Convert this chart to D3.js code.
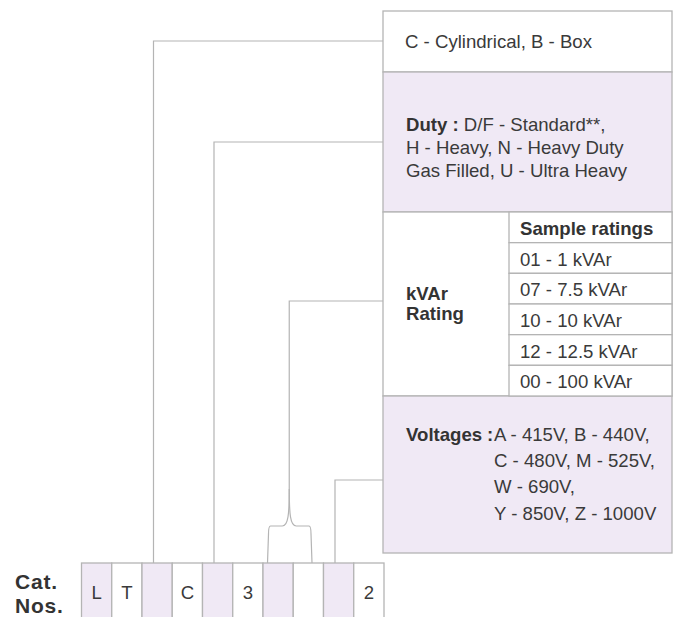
<!DOCTYPE html>
<html>
<head>
<meta charset="utf-8">
<script src="https://cdn.jsdelivr.net/npm/d3@7"></script>
<style>
  body { margin: 0; background: #fff; }
  svg { display: block; font-family: "Liberation Sans", Arial, sans-serif; }
  .box { stroke: #b4b4b4; stroke-width: 1.3; }
  .wire { fill: none; stroke: #b4b4b4; stroke-width: 1.2; }
  text { fill: #3a3a3a; font-size: 18.6px; }
  .b { font-weight: bold; fill: #333; }
</style>
</head>
<body>
<svg width="676" height="617"></svg>
<script>
// catalogue number cells, left to right
const catCodes = ["L", "T", "", "C", "", "3", "", "", "", "2"];
const catShaded = [1, 0, 1, 0, 1, 0, 1, 0, 1, 0];

// right-hand panel content
const typeText = "C - Cylindrical, B - Box";
const dutyLabel = "Duty :";
const dutyLines = [" D/F - Standard**,", "H - Heavy, N - Heavy Duty", "Gas Filled, U - Ultra Heavy"];
const ratingLabel = ["kVAr", "Rating"];
const ratingHeader = "Sample ratings";
const ratings = ["01 - 1 kVAr", "07 - 7.5 kVAr", "10 - 10 kVAr", "12 - 12.5 kVAr", "00 - 100 kVAr"];
const voltLabel = "Voltages";
const voltLines = ["A - 415V, B - 440V,", "C - 480V, M - 525V,", "W - 690V,", "Y - 850V, Z - 1000V"];
const catLabel = ["Cat.", "Nos."];

// which cell each section's wire runs down to
const wires = [
  { cell: 2, section: 0 },
  { cell: 4, section: 1 },
  { cell: [6, 7], section: 2 },
  { cell: 8, section: 3 }
];

const purple = "#f0e9f5";
const svg = d3.select("svg");

// panel sections (top, bottom, fill)
const panelX0 = 383, panelX1 = 672;
const sections = [
  { y0: 11, y1: 72, fill: "#fff", wireY: 41 },
  { y0: 72, y1: 212, fill: purple, wireY: 142 },
  { y0: 212, y1: 396, fill: "#fff", wireY: 301 },
  { y0: 396, y1: 553, fill: purple, wireY: 480 }
];

svg.append("g").selectAll("rect")
  .data(sections).join("rect")
  .attr("class", "box")
  .attr("x", panelX0).attr("width", panelX1 - panelX0)
  .attr("y", d => d.y0).attr("height", d => d.y1 - d.y0)
  .attr("fill", d => d.fill);

// type
svg.append("text").attr("x", 405).attr("y", 48).text(typeText);

// duty
const duty = svg.append("text").attr("x", 406).attr("y", 131);
duty.append("tspan").attr("class", "b").text(dutyLabel);
duty.append("tspan").text(dutyLines[0]);
svg.append("g").selectAll("text")
  .data(dutyLines.slice(1)).join("text")
  .attr("x", 406).attr("y", (d, i) => 154 + i * 23.3)
  .text(d => d);

// kVAr rating table
const colX = 509;
const rowY = d3.scaleBand()
  .domain(d3.range(ratings.length + 1))
  .range([sections[2].y0, sections[2].y1]);

svg.append("g").selectAll("rect")
  .data([ratingHeader].concat(ratings)).join("rect")
  .attr("class", "box").attr("fill", "#fff")
  .attr("x", colX).attr("width", panelX1 - colX)
  .attr("y", (d, i) => rowY(i)).attr("height", rowY.bandwidth());

svg.append("g").selectAll("text")
  .data([ratingHeader].concat(ratings)).join("text")
  .attr("class", (d, i) => i === 0 ? "b" : null)
  .attr("x", 520)
  .attr("y", (d, i) => rowY(i) + rowY.bandwidth() * 0.75)
  .text(d => d);

svg.append("g").selectAll("text")
  .data(ratingLabel).join("text")
  .attr("class", "b")
  .attr("x", 406).attr("y", (d, i) => 300 + i * 20)
  .text(d => d);

// voltages
svg.append("text").attr("class", "b").attr("x", 406).attr("y", 441).text(voltLabel);
svg.append("text").attr("class", "b").attr("x", 487).attr("y", 441).text(":");
svg.append("g").selectAll("text")
  .data(voltLines).join("text")
  .attr("x", 494).attr("y", (d, i) => 441 + i * 26.2)
  .text(d => d);

// catalogue cells
const cellX = d3.scaleBand().domain(d3.range(catCodes.length)).range([81.5, 384]);
const cellTop = 563;
const bw = cellX.bandwidth();

svg.append("g").selectAll("rect")
  .data(catCodes).join("rect")
  .attr("class", "box")
  .attr("x", (d, i) => cellX(i)).attr("width", bw)
  .attr("y", cellTop).attr("height", 80)
  .attr("fill", (d, i) => catShaded[i] ? purple : "#fff");

svg.append("g").selectAll("text")
  .data(catCodes).join("text")
  .attr("x", (d, i) => cellX(i) + bw / 2).attr("y", 599)
  .attr("text-anchor", "middle")
  .text(d => d);

svg.append("g").selectAll("text")
  .data(catLabel).join("text")
  .attr("class", "b")
  .attr("x", 15).attr("y", (d, i) => 589 + i * 24)
  .style("font-size", "21px").style("letter-spacing", "0.8px")
  .text(d => d);

// wires from cells to panel
wires.forEach(w => {
  const y = sections[w.section].wireY;
  if (Array.isArray(w.cell)) {
    const cx = cellX(w.cell[1]) - 4;
    const xl = cellX(w.cell[0]) + 4.5;
    const xr = cellX(w.cell[1]) + bw * 0.62;
    const ym = 489, yb = 526;
    svg.append("path").attr("class", "wire")
      .attr("d", `M${panelX0},${y}H${cx}V${ym}`
        + `C${cx},${yb - 12} ${cx - 1},${yb} ${cx - 7},${yb}`
        + `H${xl + 3}Q${xl + 1},${yb} ${xl + 1},${yb + 8}L${xl},${cellTop}`);
    svg.append("path").attr("class", "wire")
      .attr("d", `M${cx},${ym}C${cx},${yb - 12} ${cx + 1},${yb} ${cx + 7},${yb}`
        + `H${xr - 3}Q${xr - 1},${yb} ${xr - 1},${yb + 8}L${xr},${cellTop}`);
  } else {
    const x = cellX(w.cell) + bw * 0.38;
    svg.append("path").attr("class", "wire")
      .attr("d", `M${panelX0},${y}H${x}V${cellTop}`);
  }
});
</script>
</body>
</html>
